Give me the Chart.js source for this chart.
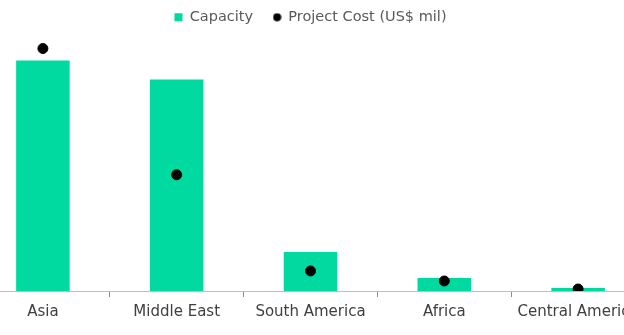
<!DOCTYPE html>
<html>
<head>
<meta charset="utf-8">
<script src="https://cdn.jsdelivr.net/npm/chart.js@4"></script>
<style>
    html, body { margin: 0; padding: 0; background: #fff; overflow: hidden; }
    #wrap { position: absolute; left: -24px; top: 0; width: 669px; height: 335px; }
</style>
</head>
<body>
<div id="wrap"><canvas id="chartCapacity"></canvas></div>
<script>
const regions = ['Asia', 'Middle East', 'South America', 'Africa', 'Central America'];
const dataCapacity = [115, 105.5, 19.5, 6.5, 1.5];
const dataProjectCost = [24200, 11600, 2000, 1000, 200];

const fontFamily = "'DejaVu Sans', sans-serif";

// small black dot for the legend entry
const legendDot = document.createElement('canvas');
legendDot.width = 9;
legendDot.height = 9;
const dctx = legendDot.getContext('2d');
dctx.fillStyle = '#000';
dctx.beginPath();
dctx.arc(4.5, 4.5, 4, 0, Math.PI * 2);
dctx.fill();

new Chart(document.getElementById('chartCapacity').getContext('2d'), {
    data: {
        labels: regions,
        datasets: [{
            type: 'scatter',
            label: 'Project Cost (US$ mil)',
            data: dataProjectCost,
            yAxisID: 'y1',
            backgroundColor: '#000000',
            borderColor: '#000000',
            pointStyle: 'circle',
            pointRadius: 5,
            order: 1
        }, {
            type: 'bar',
            label: 'Capacity',
            data: dataCapacity,
            yAxisID: 'y',
            backgroundColor: '#00d9a0',
            pointStyle: 'rect',
            barPercentage: 0.8,
            categoryPercentage: 0.5,
            order: 2
        }]
    },
    options: {
        responsive: true,
        maintainAspectRatio: false,
        animation: false,
        layout: { autoPadding: false, padding: { top: -10, left: 0, right: 0, bottom: 8 } },
        plugins: {
            legend: {
                display: true,
                reverse: true,
                labels: {
                    usePointStyle: true,
                    boxWidth: 8,
                    boxHeight: 8,
                    padding: 20,
                    color: '#595959',
                    font: { family: fontFamily, size: 14.5 },
                    generateLabels: function (chart) {
                        const items = Chart.defaults.plugins.legend.labels.generateLabels(chart);
                        items.forEach(item => {
                            if (item.datasetIndex === 0) item.pointStyle = legendDot;
                        });
                        return items;
                    }
                }
            },
            tooltip: { enabled: false }
        },
        scales: {
            x: {
                type: 'category',
                offset: true,
                grid: {
                    offset: true,
                    drawOnChartArea: false,
                    tickLength: 6,
                    color: '#8c8c8c'
                },
                border: { color: '#bfbfbf', width: 1 },
                ticks: {
                    color: '#404040',
                    padding: 6,
                    maxRotation: 0,
                    autoSkip: false,
                    font: { family: fontFamily, size: 15 }
                }
            },
            y: {
                display: false,
                min: 0,
                max: 128
            },
            y1: {
                display: false,
                min: 0,
                max: 25600
            }
        }
    }
});
</script>
</body>
</html>
